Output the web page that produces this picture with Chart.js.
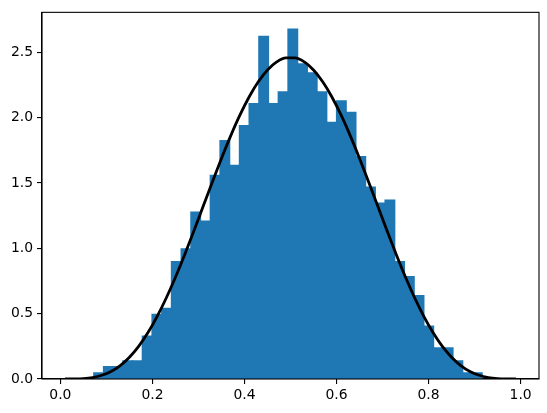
<!DOCTYPE html>
<html>
<head>
<meta charset="utf-8">
<script src="https://cdn.jsdelivr.net/npm/chart.js@4/dist/chart.umd.min.js"></script>
<style>
  body { margin: 0; background: #fff; }
</style>
</head>
<body>
<canvas id="myChart" width="547" height="413"></canvas>
<script>
// histogram bins (centres) and density heights
var binCenters = [0.0830, 0.1041, 0.1252, 0.1463, 0.1674, 0.1885, 0.2096, 0.2307, 0.2518, 0.2729,
                  0.2940, 0.3151, 0.3362, 0.3573, 0.3784, 0.3995, 0.4206, 0.4417, 0.4628, 0.4839,
                  0.5050, 0.5261, 0.5472, 0.5683, 0.5894, 0.6105, 0.6316, 0.6527, 0.6738, 0.6949,
                  0.7160, 0.7371, 0.7582, 0.7793, 0.8004, 0.8215, 0.8426, 0.8637, 0.8848, 0.9059];
var binHeights = [0.048, 0.094, 0.094, 0.139, 0.139, 0.329, 0.494, 0.541, 0.899, 0.995,
                  1.277, 1.208, 1.558, 1.824, 1.634, 1.938, 2.107, 2.622, 2.107, 2.196,
                  2.677, 2.411, 2.343, 2.196, 1.963, 2.128, 2.039, 1.702, 1.469, 1.345,
                  1.368, 0.899, 0.783, 0.638, 0.405, 0.238, 0.238, 0.139, 0.048, 0.048];

// density curve
var curveX = [0.01, 0.03, 0.05, 0.07, 0.09, 0.11, 0.13, 0.15, 0.17, 0.19,
              0.21, 0.23, 0.25, 0.27, 0.29, 0.31, 0.33, 0.35, 0.37, 0.39,
              0.41, 0.43, 0.45, 0.47, 0.49, 0.51, 0.53, 0.55, 0.57, 0.59,
              0.61, 0.63, 0.65, 0.67, 0.69, 0.71, 0.73, 0.75, 0.77, 0.79,
              0.81, 0.83, 0.85, 0.87, 0.89, 0.91, 0.93, 0.95, 0.97, 0.99];
var curveY = [0.0000, 0.0005, 0.0032, 0.0113, 0.0284, 0.0579, 0.1031, 0.1665, 0.2497, 0.3534,
              0.4772, 0.6198, 0.7787, 0.9508, 1.1323, 1.3188, 1.5056, 1.6876, 1.8600, 2.0180,
              2.1572, 2.2736, 2.3640, 2.4257, 2.4570, 2.4570, 2.4257, 2.3640, 2.2736, 2.1572,
              2.0180, 1.8600, 1.6876, 1.5056, 1.3188, 1.1323, 0.9508, 0.7787, 0.6198, 0.4772,
              0.3534, 0.2497, 0.1665, 0.1031, 0.0579, 0.0284, 0.0113, 0.0032, 0.0005, 0.0000];

var xTicks = [0.0, 0.2, 0.4, 0.6, 0.8, 1.0];
var yTicks = [0.0, 0.5, 1.0, 1.5, 2.0, 2.5];

var font = {family: "DejaVu Sans", size: 13.9};

// top and right spines
var frame = {
  id: "frame",
  afterDraw: function(chart) {
    var a = chart.chartArea, ctx = chart.ctx;
    ctx.save();
    ctx.strokeStyle = "#000";
    ctx.lineWidth = 1.1;
    ctx.strokeRect(a.left, a.top, a.right - a.left, a.bottom - a.top);
    ctx.restore();
  }
};

new Chart("myChart", {
  type: "bar",
  data: {
    datasets: [{
      type: "line",
      data: curveX.map(function(x, i) { return {x: x, y: curveY[i]}; }),
      borderColor: "#000",
      borderWidth: 2.8,
      pointRadius: 0,
      fill: false,
      cubicInterpolationMode: "monotone",
      order: 0
    }, {
      type: "bar",
      data: binCenters.map(function(x, i) { return {x: x, y: binHeights[i]}; }),
      backgroundColor: "#1f77b4",
      borderWidth: 0,
      inflateAmount: 0.6,
      barPercentage: 1.0,
      categoryPercentage: 1.0,
      order: 1
    }]
  },
  plugins: [frame],
  options: {
    responsive: false,
    animation: false,
    layout: {padding: {left: 0, right: 8, top: 10, bottom: 0}},
    plugins: {legend: {display: false}, tooltip: {enabled: false}},
    scales: {
      x: {
        type: "linear",
        min: -0.04,
        max: 1.04,
        offset: false,
        afterBuildTicks: function(axis) { axis.ticks = xTicks.map(function(v) { return {value: v}; }); },
        afterFit: function(axis) { axis.height = 34; },
        grid: {display: true, drawOnChartArea: false, drawTicks: true, tickLength: 5, color: "#000", lineWidth: 1.1, offset: false},
        border: {display: true, color: "#000", width: 1.1},
        ticks: {color: "#000", font: font, padding: 3, maxRotation: 0,
                callback: function(v) { return v.toFixed(1); }}
      },
      y: {
        min: 0,
        max: 2.805,
        afterBuildTicks: function(axis) { axis.ticks = yTicks.map(function(v) { return {value: v}; }); },
        afterFit: function(axis) { axis.width = 42; },
        grid: {display: true, drawOnChartArea: false, drawTicks: true, tickLength: 5, color: "#000", lineWidth: 1.1},
        border: {display: true, color: "#000", width: 1.1},
        ticks: {color: "#000", font: font, padding: 4,
                callback: function(v) { return v.toFixed(1); }}
      }
    }
  }
});
</script>
</body>
</html>
